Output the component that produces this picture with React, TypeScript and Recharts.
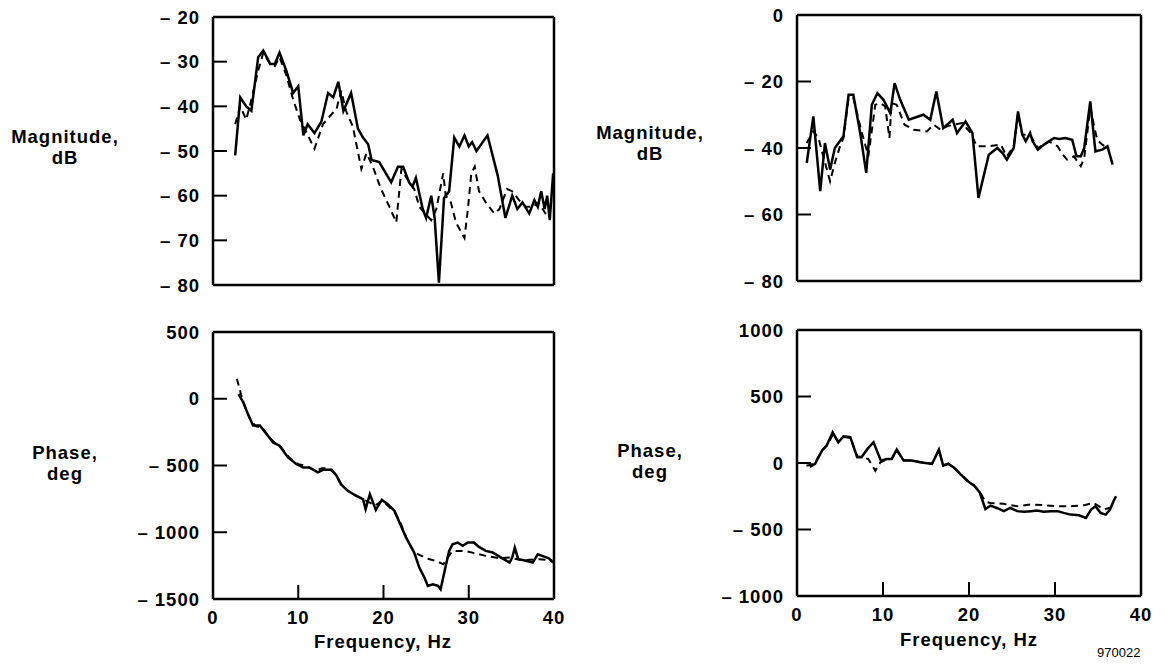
import React from 'react'
import { LineChart, Line, XAxis, YAxis } from 'recharts'

type Pt = { f: number; v: number }

// frequency (Hz) / value pairs
const magLeftSolid: [number, number][] = [
  [2.6, -51], [3.2, -38], [3.9, -40], [4.5, -41], [5.3, -29], [5.9, -27.5], [6.7, -30.5], [7.25, -30.5],
  [7.8, -28], [8.6, -32], [9.4, -37], [10, -35.5], [10.6, -46.5], [11.1, -44], [11.9, -46], [12.7, -43.5],
  [13.5, -37], [14.1, -38], [14.7, -34.5], [15.3, -41], [16.2, -37], [17, -45], [17.6, -47], [18.2, -48.5],
  [18.6, -52], [19.5, -52.5], [20.9, -57], [21.7, -53.5], [22.3, -53.5], [23, -57], [23.4, -58], [23.8, -56],
  [24.6, -63], [25, -65], [25.6, -60], [26, -65], [26.5, -79.5], [27.1, -60.5], [27.3, -60], [27.7, -59],
  [28.3, -47], [28.9, -49], [29.5, -46.5], [30, -49], [30.4, -48], [30.9, -50], [32.2, -46.5], [33.4, -55.5],
  [34.3, -65], [35.1, -60], [35.7, -63], [36.3, -61.5], [37.1, -64], [37.7, -61], [38.1, -62.5], [38.5, -59],
  [38.9, -63], [39.2, -60], [39.5, -65.5], [39.9, -55],
]
const magLeftDashed: [number, number][] = [
  [2.6, -44], [3.2, -40], [3.9, -43], [4.5, -38.5], [5.3, -32], [5.9, -28], [6.7, -30.5], [7.25, -31],
  [7.8, -29], [8.6, -33], [9.4, -38.5], [10.2, -43], [11, -46], [11.9, -49.5], [12.9, -44], [14.5, -40.5],
  [15.05, -36.5], [15.6, -41], [16.4, -44.5], [17.4, -54], [18, -50.5], [18.75, -53.5], [19.7, -58.5],
  [20.7, -62.5], [21.5, -66], [22.1, -54], [22.7, -56], [23.6, -58.5], [24.2, -62.5], [25.6, -65.5],
  [26.2, -63], [26.6, -59], [27, -55], [27.3, -60], [27.9, -61.5], [28.5, -66], [29.5, -69.5], [29.9, -63],
  [30.3, -55], [30.7, -53.5], [31.2, -59], [32, -61.5], [33, -64], [33.6, -63], [34.5, -58.5], [35.1, -59],
  [35.9, -61], [36.7, -62.5], [37.5, -62.5], [38.2, -61.5], [39, -64], [39.4, -65],
]
const phaseLeftSolid: [number, number][] = [
  [3, 35], [3.55, -27], [4.1, -115], [4.7, -200], [5.5, -200], [6.3, -265], [7.05, -327], [7.8, -352],
  [8.8, -440], [9.8, -490], [10.6, -515], [11.3, -515], [12.3, -552], [12.9, -532], [13.9, -532], [14.5, -577],
  [15, -640], [15.8, -690], [16.8, -727], [17.6, -752], [17.9, -827], [18.4, -715], [19.1, -832], [19.8, -757],
  [20.5, -790], [21.3, -840], [21.9, -930], [22.65, -1040], [23.6, -1152], [24.2, -1265], [24.8, -1340],
  [25.2, -1402], [25.8, -1390], [26.4, -1402], [26.7, -1427], [27.3, -1252], [27.7, -1140], [28.1, -1090],
  [28.7, -1077], [29.3, -1102], [29.9, -1077], [30.6, -1077], [31.2, -1110], [32, -1140], [32.8, -1152],
  [33.8, -1190], [34.8, -1227], [35.1, -1190], [35.4, -1115], [35.8, -1202], [36.5, -1210], [37.5, -1227],
  [38.1, -1165], [38.6, -1177], [39.4, -1195], [39.9, -1227],
]
const phaseLeftDashed: [number, number][] = [
  [2.8, 150], [3.3, 30], [3.8, -70], [4.4, -160], [5, -205], [5.8, -220], [6.5, -280], [7.3, -335],
  [8, -365], [9, -445], [10, -490], [11, -505], [12, -540], [12.8, -520], [13.5, -520], [14.3, -560],
  [15, -635], [15.8, -688], [16.8, -725], [17.6, -755], [18.2, -770], [19, -800], [19.8, -765], [20.5, -800],
  [21.3, -850], [22, -930], [22.8, -1060], [23.6, -1150], [25, -1195], [26.2, -1215], [27, -1240],
  [28.1, -1140], [29.6, -1140], [31.2, -1165], [32, -1177], [33.6, -1195], [34.8, -1190], [36.3, -1210],
  [38.3, -1202], [39.8, -1210],
]
const magRightSolid: [number, number][] = [
  [1.13, -44.5], [1.9, -30.5], [2.7, -53], [3.25, -38.5], [3.85, -46.5], [4.4, -40], [5.4, -36.5], [6, -24],
  [6.55, -24], [7.35, -35.5], [8.05, -47.5], [8.7, -27], [9.35, -23.5], [10.05, -25.5], [10.85, -29.5],
  [11.35, -20.5], [12, -25.5], [13, -31.5], [14.7, -30], [15.5, -31.5], [16.2, -23], [17, -34], [17.45, -33],
  [18.1, -31.5], [18.6, -35.5], [19.6, -32], [20.4, -35.5], [21.1, -55], [22.3, -42], [23.3, -40],
  [23.9, -41.5], [24.4, -43.5], [25.2, -40], [25.7, -29], [26.2, -36], [26.6, -38], [27.1, -35.5],
  [27.4, -38], [28, -40.5], [28.7, -39], [29.3, -38], [29.9, -37], [30.5, -37.3], [31.2, -37], [32, -37.5],
  [32.5, -42.5], [33, -42.5], [33.4, -40], [34.1, -26], [34.7, -41], [35.5, -40.5], [36.1, -39.5], [36.7, -45],
]
const magRightDashed: [number, number][] = [
  [1.13, -38.5], [1.9, -35], [2.5, -37], [3, -42], [3.85, -50], [4.4, -44.5], [5, -39.5], [5.4, -37],
  [6, -25], [6.55, -25], [7.5, -35], [8.3, -42.5], [9.1, -27], [9.7, -26.5], [10.25, -27.5], [10.75, -37],
  [11, -26.5], [11.6, -27], [12.5, -33], [13.55, -34.5], [15.1, -35], [15.9, -33], [16.7, -34.5],
  [17.45, -33.5], [18.2, -33], [19.2, -32.5], [20.2, -35.5], [20.9, -39.5], [22.1, -39.5], [23.7, -39],
  [24.4, -42.5], [25.2, -39.5], [25.7, -30], [26.2, -36], [27.1, -36], [28, -40], [29.3, -38], [30.3, -39.5],
  [30.9, -42], [31.4, -43.5], [32.2, -42.5], [33, -45.5], [33.4, -43], [34.1, -28], [34.9, -37.5],
  [35.5, -39], [36.1, -40],
]
const phaseRightSolid: [number, number][] = [
  [1.5, -30], [2.1, -7], [2.9, 93], [3.45, 131], [4.15, 231], [4.8, 156], [5.4, 200], [6.2, 194], [7, 43],
  [7.5, 43], [8.2, 106], [8.9, 156], [9.75, 18], [10.45, 30], [11, 30], [11.6, 101], [12.4, 18], [13.35, 18],
  [14.3, 5], [15.7, -7], [16.5, 101], [17, -20], [17.6, -7], [18.2, -32], [19, -83], [19.8, -133],
  [20.6, -171], [21.25, -221], [21.9, -346], [22.5, -321], [23.3, -340], [24.05, -362], [24.8, -337],
  [25.6, -362], [26.4, -367], [27.2, -362], [27.9, -357], [28.7, -367], [29.5, -362], [30.3, -362],
  [31, -375], [31.8, -388], [32.8, -393], [33.6, -413], [34.2, -350], [34.7, -325], [35.3, -375],
  [35.9, -388], [36.4, -350], [36.8, -287], [37.1, -250],
]
const phaseRightDashed: [number, number][] = [
  [1.1, -20], [2, -5], [3.05, 106], [3.6, 140], [4.2, 220], [4.8, 160], [5.4, 195], [6.2, 190], [7, 50],
  [7.5, 45], [8.3, 30], [9.1, -58], [9.7, 5], [10.45, 28], [11, 30], [11.6, 95], [12.4, 20], [13.35, 18],
  [14.3, 8], [15.7, -5], [16.5, 95], [17, -15], [17.6, -5], [18.2, -30], [19, -80], [19.8, -130],
  [20.6, -170], [21.25, -215], [21.9, -290], [22.5, -300], [24, -307], [25.6, -325], [27.2, -312],
  [28.7, -317], [30.3, -325], [31.8, -325], [33.4, -317], [34.5, -300], [35.7, -350], [36.4, -337],
]

const freqTicks = [0, 10, 20, 30, 40]
const magLeftTicks = [-20, -30, -40, -50, -60, -70, -80]
const magRightTicks = [0, -20, -40, -60, -80]
const phaseLeftTicks = [500, 0, -500, -1000, -1500]
const phaseRightTicks = [1000, 500, 0, -500, -1000]

const toPts = (rows: [number, number][]): Pt[] => rows.map(([f, v]) => ({ f, v }))
const fmt = (v: number) => (v < 0 ? `\u2013 ${Math.abs(v)}` : `${v}`)

const FONT = '"Liberation Sans", Arial, Helvetica, sans-serif'
const tickFont = { fill: '#000', fontSize: 18.5, fontWeight: 700, fontFamily: FONT, letterSpacing: 1 }
const axisLine = { stroke: '#000', strokeWidth: 2.5 }
const tickLine = { stroke: '#000', strokeWidth: 2 }

type PanelProps = {
  x: number; y: number; w: number; h: number
  yTicks: number[]
  solid: [number, number][]
  dashed: [number, number][]
  showX: boolean
}

function Panel({ x, y, w, h, yTicks, solid, dashed, showX }: PanelProps) {
  const yW = 90
  const mT = 13 // plus the 1px top axis
  const mR = 16 // plus the 1px right axis
  const xH = 40
  const dom: [number, number] = [Math.min(...yTicks), Math.max(...yTicks)]
  const inner = yTicks.slice(1, -1)
  return (
    <div style={{ position: 'absolute', left: x - yW, top: y - mT - 1 }}>
      <LineChart width={yW + w + 1 + mR} height={mT + 1 + h + xH} margin={{ top: mT, right: mR, bottom: 0, left: 0 }}>
        <XAxis xAxisId="b" type="number" dataKey="f" domain={[0, 40]} ticks={freqTicks} allowDataOverflow
          height={xH} axisLine={axisLine} tickLine={tickLine} tickSize={-14} tickMargin={26}
          tick={showX ? tickFont : false} interval={0} />
        <XAxis xAxisId="t" orientation="top" type="number" dataKey="f" domain={[0, 40]} ticks={[10, 20, 30]}
          allowDataOverflow height={1} axisLine={axisLine} tickLine={tickLine} tickSize={-14} tick={false} />
        <YAxis yAxisId="l" type="number" domain={dom} ticks={yTicks} allowDataOverflow width={yW}
          axisLine={axisLine} tickLine={tickLine} tickSize={-14} tickMargin={27} tick={tickFont}
          tickFormatter={fmt} interval={0} />
        <YAxis yAxisId="r" orientation="right" type="number" domain={dom} ticks={inner} allowDataOverflow
          width={1} axisLine={axisLine} tickLine={tickLine} tickSize={-14} tick={false} />
        {/* invisible copy so the top and right frame axes get drawn */}
        <Line xAxisId="t" yAxisId="r" data={toPts(solid)} dataKey="v" stroke="none" dot={false}
          activeDot={false} isAnimationActive={false} />
        <Line xAxisId="b" yAxisId="l" data={toPts(dashed)} dataKey="v" stroke="#000" strokeWidth={2}
          strokeDasharray="7 5" dot={false} isAnimationActive={false} />
        <Line xAxisId="b" yAxisId="l" data={toPts(solid)} dataKey="v" stroke="#000" strokeWidth={2.5}
          dot={false} isAnimationActive={false} />
      </LineChart>
    </div>
  )
}

const labelStyle: React.CSSProperties = {
  position: 'absolute', fontFamily: FONT, fontWeight: 700, fontSize: 18.5, lineHeight: '21px',
  letterSpacing: 1, textAlign: 'center', color: '#000', width: 200, whiteSpace: 'nowrap',
}

export default function App() {
  return (
    <div style={{ position: 'absolute', left: 0, top: 0, width: 1168, height: 665, background: '#fff', overflow: 'hidden' }}>
      <Panel x={213} y={17} w={341} h={268} yTicks={magLeftTicks} solid={magLeftSolid} dashed={magLeftDashed} showX={false} />
      <Panel x={213} y={332} w={341} h={267} yTicks={phaseLeftTicks} solid={phaseLeftSolid} dashed={phaseLeftDashed} showX />
      <Panel x={797} y={15} w={344} h={266} yTicks={magRightTicks} solid={magRightSolid} dashed={magRightDashed} showX={false} />
      <Panel x={797} y={330} w={344} h={266} yTicks={phaseRightTicks} solid={phaseRightSolid} dashed={phaseRightDashed} showX />

      <div style={{ ...labelStyle, left: 65 - 100, top: 126 }}>Magnitude,<br />dB</div>
      <div style={{ ...labelStyle, left: 65 - 100, top: 442 }}>Phase,<br />deg</div>
      <div style={{ ...labelStyle, left: 650 - 100, top: 122 }}>Magnitude,<br />dB</div>
      <div style={{ ...labelStyle, left: 650 - 100, top: 440 }}>Phase,<br />deg</div>

      <div style={{ ...labelStyle, left: 383 - 100, top: 631 }}>Frequency, Hz</div>
      <div style={{ ...labelStyle, left: 969 - 100, top: 629 }}>Frequency, Hz</div>
      <div style={{ position: 'absolute', left: 1097, top: 645, fontFamily: FONT, fontSize: 13, color: '#000' }}>970022</div>
    </div>
  )
}
